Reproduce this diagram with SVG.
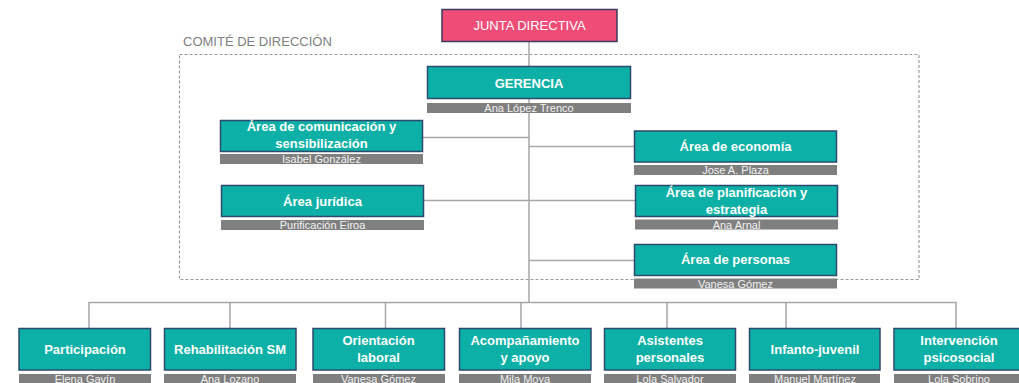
<svg xmlns="http://www.w3.org/2000/svg" width="1019" height="383" viewBox="0 0 1019 383">
<style>
.box{fill:#0CB0A6;stroke:#2B4A6E;stroke-width:1.5}
.jd{fill:#EF4C78;stroke:#3C3A5C;stroke-width:1.5}
.bar{fill:#7F7F7F}
.t{font-family:"Liberation Sans",Arial,sans-serif;font-size:13px;font-weight:bold;fill:#FFFFFF;text-anchor:middle}
.n{font-family:"Liberation Sans",Arial,sans-serif;font-size:11px;fill:#F2F2F2;text-anchor:middle}
.ln{stroke:#A6A6A6;stroke-width:1.5;fill:none}
.dash{fill:none;stroke:#9A9A9A;stroke-width:1.2;stroke-dasharray:3 2}
.lbl{font-family:"Liberation Sans",Arial,sans-serif;font-size:13px;fill:#7F7F7F}
</style>
<rect width="1019" height="383" fill="#FFFFFF"/>
<g id="comite">
<rect class="dash" x="179.5" y="54.5" width="739.5" height="225"/>
<text class="lbl" x="183" y="46">COMITÉ DE DIRECCIÓN</text>
</g>
<g id="connectors">
<path class="ln" d="M529 41V302"/>
<path class="ln" d="M422 137.5H529"/>
<path class="ln" d="M423 200.5H529"/>
<path class="ln" d="M529 146.5H634"/>
<path class="ln" d="M529 200.5H635"/>
<path class="ln" d="M529 260.5H634"/>
<path class="ln" d="M89 328V302.5H956V328"/>
<path class="ln" d="M230 302.5V328M385.5 302.5V328M521 302.5V328M667 302.5V328M786 302.5V328"/>
</g>
<g id="junta">
<rect class="jd" x="442" y="9.5" width="175" height="32"/>
<text class="t" x="529.5" y="30" style="font-weight:normal">JUNTA DIRECTIVA</text>
</g>
<g id="gerencia">
<rect class="box" x="427.5" y="66.5" width="203" height="32"/>
<text class="t" x="529" y="88">GERENCIA</text>
<rect class="bar" x="427" y="103" width="204" height="10"/>
<text class="n" x="529" y="112">Ana López Trenco</text>
</g>
<g id="comunicacion">
<rect class="box" x="220.5" y="120.5" width="202" height="31"/>
<text class="t" x="321.5" y="131">Área de comunicación y</text>
<text class="t" x="321.5" y="148">sensibilización</text>
<rect class="bar" x="220" y="154" width="203" height="10"/>
<text class="n" x="321.5" y="163">Isabel González</text>
</g>
<g id="juridica">
<rect class="box" x="221.5" y="185.5" width="202" height="31"/>
<text class="t" x="322.5" y="206">Área jurídica</text>
<rect class="bar" x="221" y="220" width="203" height="10"/>
<text class="n" x="322.5" y="229">Purificación Eiroa</text>
</g>
<g id="economia">
<rect class="box" x="634.5" y="131" width="202" height="31"/>
<text class="t" x="735.5" y="151">Área de economía</text>
<rect class="bar" x="634" y="165" width="203" height="10"/>
<text class="n" x="735.5" y="174">Jose A. Plaza</text>
</g>
<g id="planificacion">
<rect class="box" x="635.5" y="185.5" width="202" height="31"/>
<text class="t" x="736.5" y="197">Área de planificación y</text>
<text class="t" x="736.5" y="214">estrategia</text>
<rect class="bar" x="635" y="219.5" width="203" height="10"/>
<text class="n" x="736.5" y="228.5">Ana Arnal</text>
</g>
<g id="personas">
<rect class="box" x="634.5" y="244.5" width="202" height="31"/>
<text class="t" x="735.5" y="264">Área de personas</text>
<rect class="bar" x="634" y="278.5" width="203" height="10"/>
<text class="n" x="735.5" y="287.5">Vanesa Gómez</text>
</g>
<g id="participacion">
<rect class="box" x="19" y="328.5" width="131.5" height="41.5"/>
<text class="t" x="85" y="354">Participación</text>
<rect class="bar" x="19" y="374" width="132" height="10"/>
<text class="n" x="85" y="383">Elena Gavín</text>
</g>
<g id="rehabilitacion">
<rect class="box" x="164.5" y="328.5" width="131.5" height="41.5"/>
<text class="t" x="230" y="354">Rehabilitación SM</text>
<rect class="bar" x="164" y="374" width="132" height="10"/>
<text class="n" x="230" y="383">Ana Lozano</text>
</g>
<g id="orientacion">
<rect class="box" x="313" y="328.5" width="131.5" height="41.5"/>
<text class="t" x="378.5" y="345">Orientación</text>
<text class="t" x="378.5" y="362">laboral</text>
<rect class="bar" x="313" y="374" width="132" height="10"/>
<text class="n" x="378.5" y="383">Vanesa Gómez</text>
</g>
<g id="acompanamiento">
<rect class="box" x="459.5" y="328.5" width="131.5" height="41.5"/>
<text class="t" x="525" y="345">Acompañamiento</text>
<text class="t" x="525" y="362">y apoyo</text>
<rect class="bar" x="459" y="374" width="132" height="10"/>
<text class="n" x="525" y="383">Mila Moya</text>
</g>
<g id="asistentes">
<rect class="box" x="604.5" y="328.5" width="131" height="41.5"/>
<text class="t" x="670" y="345">Asistentes</text>
<text class="t" x="670" y="362">personales</text>
<rect class="bar" x="604" y="374" width="132" height="10"/>
<text class="n" x="670" y="383">Lola Salvador</text>
</g>
<g id="infanto">
<rect class="box" x="749.5" y="328.5" width="130.5" height="41.5"/>
<text class="t" x="815" y="354">Infanto-juvenil</text>
<rect class="bar" x="749" y="374" width="131" height="10"/>
<text class="n" x="815" y="383">Manuel Martínez</text>
</g>
<g id="intervencion">
<rect class="box" x="894" y="328.5" width="131" height="41.5"/>
<text class="t" x="959" y="345">Intervención</text>
<text class="t" x="959" y="362">psicosocial</text>
<rect class="bar" x="894" y="374" width="132" height="10"/>
<text class="n" x="959" y="383">Lola Sobrino</text>
</g>
</svg>
